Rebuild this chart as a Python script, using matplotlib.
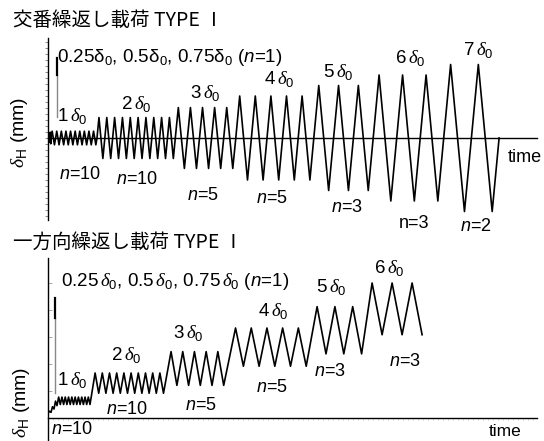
import matplotlib
matplotlib.use("Agg")
import matplotlib.pyplot as plt
from matplotlib.ticker import MultipleLocator, NullLocator

plt.rcParams["font.family"] = ["Liberation Sans", "Noto Sans CJK JP", "DejaVu Sans"]
plt.rcParams["mathtext.fontset"] = "custom"
plt.rcParams["mathtext.rm"] = "Liberation Sans"
plt.rcParams["mathtext.it"] = "Liberation Sans:italic"
plt.rcParams["mathtext.cal"] = "Liberation Serif:italic"

W, H = 544, 441

# 交番繰返し載荷 (alternating): cycles, drawn amplitude [δ0], period [time]
alt_cycles = [1, 1, 1, 10, 10, 5, 5, 3, 3, 2]
alt_amp = [0.25, 0.4, 0.55, 0.65, 1.95, 2.9, 4.0, 5.0, 6.0, 7.0]
alt_period = [1.0, 1.0, 1.0, 4.6, 7.83, 12.1, 15.6, 19.8, 23.5, 27.7]

# 一方向繰返し載荷 (one direction): cycles, peak / valley [δ0], period, lead-in
uni_cycles = [1, 1, 1, 10, 10, 5, 5, 3, 3]
uni_peak = [0.3, 0.5, 0.75, 0.93, 2.0, 2.95, 4.0, 4.95, 6.0]
uni_valley = [0.25, 0.4, 0.55, 0.6, 1.1, 1.45, 2.3, 2.85, 3.7]
uni_period = [3.0, 3.0, 3.0, 3.3, 7.2, 11.7, 15.7, 17.8, 20.0]
uni_lead = [0.0, 0.0, 0.0, 0.0, 1.5, 1.7, 4.0, 2.0, 0.5]
uni_start = 0.22


def alt_wave(cycles, amp, period):
    ts, ys = [0.0], [0.0]
    t0 = 0.0
    for n, a, p in zip(cycles, amp, period):
        for _ in range(n):
            ts += [t0 + p / 4, t0 + 3 * p / 4, t0 + p]
            ys += [a, -a, 0.0]
            t0 += p
    return ts, ys


def uni_wave(cycles, peak, valley, period, lead, start):
    ts, ys = [0.0], [start]
    t0 = 0.0
    for n, hi, lo, p, ld in zip(cycles, peak, valley, period, lead):
        t0 += ld
        for _ in range(n):
            ts += [t0 + p / 2, t0 + p]
            ys += [hi, lo]
            t0 += p
    return ts, ys


def put(fig, x, y, s, size=12.5, **kw):
    fig.text(x / W, 1 - y / H, s, ha="center", va="center", fontsize=size, **kw)


D0 = r"$\,\mathcal{\delta}_0$"

fig = plt.figure(figsize=(W / 100, H / 100), dpi=100)

# ---- top panel ----
ax1 = fig.add_axes([48 / W, 1 - 220 / H, 489 / W, 182 / H])
t, y = alt_wave(alt_cycles, alt_amp, alt_period)
ax1.plot(t, y, color="black", lw=1.2)
ax1.plot([9, 9], [2.0, 6.0], color="#888888", lw=1.0)
ax1.plot([9, 9], [6.0, 7.6], color="black", lw=1.6)
ax1.set_xlim(0, 489)
ax1.set_ylim(-82 / 10.5, 100 / 10.5)

# ---- bottom panel ----
ax2 = fig.add_axes([48 / W, 0, 489 / W, 183 / H])
t, y = uni_wave(uni_cycles, uni_peak, uni_valley, uni_period, uni_lead, uni_start)
ax2.plot(t, y, color="black", lw=1.2)
ax2.plot([7, 7], [1.1, 4.45], color="#888888", lw=1.0)
ax2.plot([7, 7], [4.45, 5.35], color="black", lw=1.6)
ax2.set_xlim(0, 489)
ax2.set_ylim(-23 / 22.5, 160 / 22.5)

for ax in (ax1, ax2):
    ax.patch.set_visible(False)
    ax.spines["top"].set_visible(False)
    ax.spines["right"].set_visible(False)
    ax.spines["bottom"].set_position(("data", 0))
    ax.spines["left"].set_linewidth(1.0)
    ax.spines["bottom"].set_linewidth(1.0)

ax1.xaxis.set_major_locator(NullLocator())
ax1.yaxis.set_major_locator(MultipleLocator(0.57))
ax1.tick_params(axis="y", direction="out", length=2.5, width=0.6,
                color="#777777", labelleft=False)

ax2.xaxis.set_major_locator(MultipleLocator(5))
ax2.tick_params(axis="x", direction="out", length=1.5, width=0.5,
                color="#bbbbbb", labelbottom=False)
ax2.yaxis.set_major_locator(MultipleLocator(1.2))
ax2.tick_params(axis="y", direction="in", length=3, width=0.6,
                color="#999999", labelleft=False)

# ---- texts ----
cjk = ["Noto Sans CJK JP", "DejaVu Sans"]
fig.text(13 / W, 1 - 21 / H, "交番繰返し載荷 TYPE Ⅰ", ha="left", va="center",
         fontsize=14, family=cjk)
fig.text(13 / W, 1 - 242 / H, "一方向繰返し載荷 TYPE Ⅰ", ha="left", va="center",
         fontsize=14, family=cjk)

fig.text(57 / W, 1 - 57 / H, "0.25δ$_0$, 0.5δ$_0$, 0.75δ$_0$ ($n$=1)",
         ha="left", va="center", fontsize=13.5)
fig.text(61 / W, 1 - 281 / H,
         "0.25" + D0 + ", 0.5" + D0 + ", 0.75" + D0 + " ($n$=1)",
         ha="left", va="center", fontsize=13.5)

top_labels = [("1", 72, 116), ("2", 136, 104), ("3", 205, 93), ("4", 279, 79),
              ("5", 338, 72), ("6", 410, 58), ("7", 478, 50)]
for k, x, yy in top_labels:
    put(fig, x, yy, k + D0, size=13.5)

top_counts = [("$n$=10", 80, 175), ("$n$=10", 137, 180), ("$n$=5", 203, 195),
              ("$n$=5", 272, 198), ("$n$=3", 347, 208), ("n=3", 414, 223),
              ("$n$=2", 476, 226)]
for s, x, yy in top_counts:
    put(fig, x, yy, s, size=13)

bot_labels = [("1", 72, 380), ("2", 126, 355), ("3", 188, 333), ("4", 273, 311),
              ("5", 331, 287), ("6", 389, 268)]
for k, x, yy in bot_labels:
    put(fig, x, yy, k + D0, size=13.5)

bot_counts = [("$n$=10", 72, 429), ("$n$=10", 127, 409), ("$n$=5", 201, 406),
              ("$n$=5", 272, 388), ("$n$=3", 330, 372), ("$n$=3", 405, 362)]
for s, x, yy in bot_counts:
    put(fig, x, yy, s, size=13)

put(fig, 525, 157, "time", size=13)
put(fig, 505, 431, "time", size=12.5)

put(fig, 19, 132, r"$\mathcal{\delta}_\mathrm{H}$ (mm)", size=14, rotation=90)
put(fig, 21, 402, r"$\mathcal{\delta}_\mathrm{H}$ (mm)", size=14, rotation=90)

fig.savefig("out.png", dpi=100)
